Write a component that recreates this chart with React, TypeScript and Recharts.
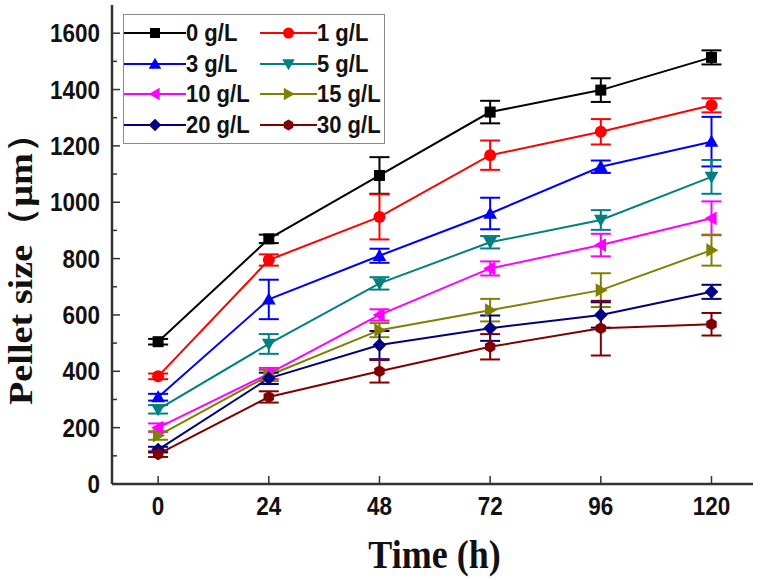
import { LineChart, Line, XAxis, YAxis, ErrorBar, Legend } from 'recharts';

const times = [0, 24, 48, 72, 96, 120];
const xTicks = [0, 24, 48, 72, 96, 120];
const yTicks = [0, 100, 200, 300, 400, 500, 600, 700, 800, 900, 1000, 1100, 1200, 1300, 1400, 1500, 1600];

const size0 = [505, 870, 1095, 1320, 1398, 1514];
const err0 = [10, 15, 65, 40, 42, 25];
const size1 = [382, 795, 948, 1167, 1250, 1344];
const err1 = [10, 20, 80, 52, 45, 25];
const size3 = [308, 655, 810, 960, 1126, 1215];
const err3 = [12, 70, 25, 56, 22, 88];
const size5 = [265, 497, 712, 858, 937, 1090];
const err5 = [15, 35, 22, 22, 35, 60];
const size10 = [200, 392, 600, 765, 848, 943];
const err10 = [15, 20, 20, 25, 40, 60];
const size15 = [172, 385, 546, 617, 688, 830];
const err15 = [15, 20, 25, 40, 60, 55];
const size20 = [122, 375, 493, 553, 600, 682];
const err20 = [10, 20, 50, 45, 45, 25];
const size30 = [106, 309, 400, 487, 553, 567];
const err30 = [10, 20, 40, 45, 97, 40];

const series = [
  { key: 'c0', name: '0 g/L', color: '#000000', shape: 'square', values: size0, errors: err0 },
  { key: 'c1', name: '1 g/L', color: '#ff0000', shape: 'circle', values: size1, errors: err1 },
  { key: 'c3', name: '3 g/L', color: '#0000ff', shape: 'up', values: size3, errors: err3 },
  { key: 'c5', name: '5 g/L', color: '#008080', shape: 'down', values: size5, errors: err5 },
  { key: 'c10', name: '10 g/L', color: '#ff00ff', shape: 'left', values: size10, errors: err10 },
  { key: 'c15', name: '15 g/L', color: '#808000', shape: 'right', values: size15, errors: err15 },
  { key: 'c20', name: '20 g/L', color: '#000080', shape: 'diamond', values: size20, errors: err20 },
  { key: 'c30', name: '30 g/L', color: '#800000', shape: 'hexagon', values: size30, errors: err30 },
];

const data = times.map((t, i) => {
  const row: Record<string, number> = { t };
  series.forEach((s) => {
    row[s.key] = s.values[i];
    row[s.key + 'e'] = s.errors[i];
  });
  return row;
});

// the original figure is stretched a little vertically
const stretch = 1.12;
const tickFont = { fontFamily: '"Liberation Sans", Arial, sans-serif', fontWeight: 700, fontSize: 22.5, fill: '#111' };
const titleFont = { fontFamily: '"Liberation Serif", "Times New Roman", serif', fontWeight: 700, fontSize: 34, fill: '#111' };
const frame = '#333';

function Marker({ shape, cx, cy, color, r = 5.5 }: any) {
  const k = r * 1.25;
  switch (shape) {
    case 'square':
      return <rect x={cx - r} y={cy - r} width={2 * r} height={2 * r} fill={color} />;
    case 'circle':
      return <circle cx={cx} cy={cy} r={r + 0.5} fill={color} />;
    case 'up':
      return <polygon points={`${cx},${cy - k} ${cx + k},${cy + k * 0.75} ${cx - k},${cy + k * 0.75}`} fill={color} />;
    case 'down':
      return <polygon points={`${cx},${cy + k} ${cx + k},${cy - k * 0.75} ${cx - k},${cy - k * 0.75}`} fill={color} />;
    case 'left':
      return <polygon points={`${cx - k},${cy} ${cx + k * 0.75},${cy - k} ${cx + k * 0.75},${cy + k}`} fill={color} />;
    case 'right':
      return <polygon points={`${cx + k},${cy} ${cx - k * 0.75},${cy - k} ${cx - k * 0.75},${cy + k}`} fill={color} />;
    case 'diamond':
      return <polygon points={`${cx},${cy - k} ${cx + k},${cy} ${cx},${cy + k} ${cx - k},${cy}`} fill={color} />;
    default: {
      const pts = [0, 1, 2, 3, 4, 5]
        .map((j) => {
          const a = (Math.PI / 3) * j + Math.PI / 2;
          return `${cx + r * 1.1 * Math.cos(a)},${cy + r * 1.1 * Math.sin(a)}`;
        })
        .join(' ');
      return <polygon points={pts} fill={color} />;
    }
  }
}

function YTick({ x, y, payload }: any) {
  const major = payload.value % 200 === 0;
  return (
    <g>
      <line x1={x} x2={x + (major ? 8 : 5)} y1={y} y2={y} stroke={frame} strokeWidth={1.5} />
      {major && (
        <text transform={`translate(${x - 12} ${y}) scale(1 ${stretch})`} dy="0.36em" textAnchor="end" {...tickFont}>
          {payload.value}
        </text>
      )}
    </g>
  );
}

function XTick({ x, y, payload }: any) {
  return (
    <g>
      <line x1={x} x2={x} y1={y} y2={y - 8} stroke={frame} strokeWidth={1.5} />
      <text transform={`translate(${x} ${y + 31}) scale(1 ${stretch})`} textAnchor="middle" {...tickFont}>
        {payload.value}
      </text>
    </g>
  );
}

function YTitle() {
  const cx = 32;
  const cy = 260;
  return (
    <text
      x={cx}
      y={cy}
      transform={`rotate(-90 ${cx} ${cy})`}
      textAnchor="middle"
      textLength={290}
      lengthAdjust="spacingAndGlyphs"
      {...titleFont}
    >
      Pellet size（μm）
    </text>
  );
}

function XTitle({ viewBox }: any) {
  const cx = viewBox.x + viewBox.width / 2 + 2;
  return (
    <text transform={`translate(${cx} 568) scale(1 ${stretch})`} textAnchor="middle" {...titleFont} fontSize={36}>
      Time (h)
    </text>
  );
}

function LegendBox() {
  return (
    <div
      style={{
        border: '1.5px solid #8a8a8a',
        width: 260,
        padding: '3px 0',
        display: 'grid',
        gridTemplateColumns: '136px 124px',
        background: '#fff',
      }}
    >
      {series.map((s, i) => {
        const w = i % 2 === 0 ? 62 : 57;
        return (
          <div key={s.key} style={{ display: 'flex', alignItems: 'center', height: 30.5 }}>
            <svg width={w} height={20} style={{ display: 'block' }}>
              <line x1={0} x2={w} y1={10} y2={10} stroke={s.color} strokeWidth={2} />
              <Marker shape={s.shape} cx={w / 2} cy={10} color={s.color} r={5} />
            </svg>
            <span
              style={{
                fontFamily: tickFont.fontFamily,
                fontWeight: 700,
                fontSize: 22,
                color: '#111',
                lineHeight: 1,
                display: 'inline-block',
                transform: `scaleY(${stretch})`,
              }}
            >
              {s.name}
            </span>
          </div>
        );
      })}
    </div>
  );
}

export default function App() {
  return (
    <div style={{ position: 'absolute', left: 0, top: 0, background: '#fff' }}>
      <LineChart width={760} height={580} data={data} margin={{ top: 5, right: 7, bottom: 0, left: 0 }}>
        <XAxis
          dataKey="t"
          type="number"
          domain={[-10, 129]}
          ticks={xTicks}
          allowDataOverflow
          height={96}
          tickSize={0}
          tickMargin={0}
          tickLine={false}
          tick={<XTick />}
          axisLine={{ stroke: frame, strokeWidth: 2.5 }}
          label={{ content: <XTitle /> }}
        />
        <XAxis xAxisId="top" orientation="top" dataKey="t" type="number" domain={[-10, 129]} height={0} tick={false} tickLine={false} axisLine={{ stroke: frame, strokeWidth: 2.5 }} />
        <YAxis
          type="number"
          domain={[0, 1700]}
          ticks={yTicks}
          allowDataOverflow
          width={112}
          tickSize={0}
          tickMargin={0}
          tickLine={false}
          tick={<YTick />}
          axisLine={{ stroke: frame, strokeWidth: 2.5 }}
          label={{ content: <YTitle /> }}
        />
        <YAxis yAxisId="right" orientation="right" domain={[0, 1700]} width={0} tick={false} tickLine={false} axisLine={{ stroke: frame, strokeWidth: 2.5 }} />
        <Legend
          layout="horizontal"
          verticalAlign="middle"
          align="center"
          content={<LegendBox />}
          wrapperStyle={{ left: 123, top: 14, width: 263, height: 'auto' }}
        />
        {series.map((s) => (
          <Line
            key={s.key}
            dataKey={s.key}
            name={s.name}
            stroke={s.color}
            strokeWidth={2}
            isAnimationActive={false}
            activeDot={false}
            dot={(p: any) => <Marker key={`${s.key}-${p.index}`} shape={s.shape} cx={p.cx} cy={p.cy} color={s.color} />}
          >
            <ErrorBar dataKey={s.key + 'e'} direction="y" width={10} stroke={s.color} strokeWidth={2} isAnimationActive={false} />
          </Line>
        ))}
      </LineChart>
    </div>
  );
}
